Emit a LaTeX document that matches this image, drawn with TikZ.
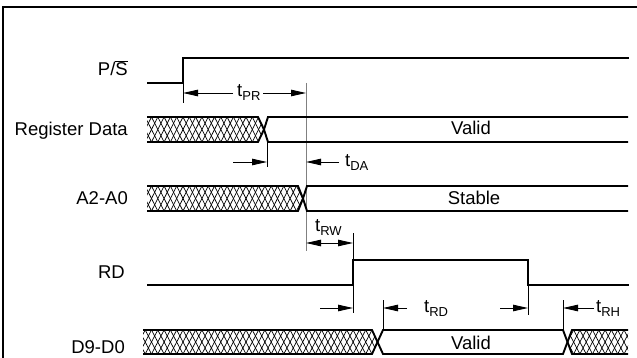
\documentclass[tikz,border=0pt]{standalone}
\usepackage{fontspec}
\setmainfont{Liberation Sans}
\usetikzlibrary{arrows.meta}
\newcommand{\tsub}[1]{t\raisebox{-4pt}{\fontsize{13}{13}\selectfont #1}}
\newcommand{\hatchrow}[2]{%
  \foreach \hx in {120,126.3,...,640} {%
    \draw[hatchline] (\hx,#1) -- (\hx+12.6,#2);
    \draw[hatchline] (\hx+12.6,#1) -- (\hx,#2);
  }}
\begin{document}
\begin{tikzpicture}[x=1pt,y=-1pt,
  sig/.style={line width=1.9pt, line join=miter},
  hatchline/.style={line width=0.7pt},
  tick/.style={line width=0.8pt},
  guide/.style={line width=1pt, draw=black!50},
  dim/.style={line width=0.9pt, -{Triangle[length=15pt,width=6.5pt]}},
  dimboth/.style={line width=0.9pt, {Triangle[length=15pt,width=6.5pt]}-{Triangle[length=15pt,width=6.5pt]}},
  lbl/.style={font=\fontsize{18.5}{18.5}\selectfont, inner sep=0pt}]
\useasboundingbox (0,0) rectangle (637,358);
% frame
\draw[line width=2pt] (3,360) -- (3,7) -- (640,7);

% signal names
\node[lbl, anchor=base east] (nps) at (128,76) {P/$\overline{\hbox{S}}$};
\node[lbl, anchor=base east] (nrd) at (128,136) {Register Data};
\node[lbl, anchor=base east] (na) at (128,205) {A2-A0};
\node[lbl, anchor=base east] (nrdsig) at (125,278) {RD};
\node[lbl, anchor=base east] (nd) at (125,353) {D9-D0};

% guide line and ticks
\draw[guide] (306,83) -- (306,251);
\coordinate (k1a) at (183,83); \coordinate (k1b) at (183,103);
\draw[tick] (k1a) -- (k1b);
\draw[tick] (267,142) -- (267,167);
\draw[tick] (353,233) -- (353,313);
\draw[tick] (383,300) -- (383,330);
\draw[tick] (528,285) -- (528,315);
\draw[tick] (563,300) -- (563,330);

% P/S
\draw[sig] (147,83) -- (183,83) -- (183,58) -- (629,58);

% Register Data bus
\begin{scope}
  \clip (147,117) -- (258,117) -- (264,129.5) -- (258,142) -- (147,142) -- cycle;
  \hatchrow{117}{142}
\end{scope}
\draw[sig] (147,117) -- (258,117) -- (264,129.5) -- (258,142) -- (147,142);
\draw[sig] (628,117) -- (268,117) -- (264,129.5) -- (268,142) -- (628,142);
\node[lbl, anchor=base] (vreg) at (471,135) {Valid};

% A2-A0 bus
\begin{scope}
  \clip (147,186) -- (298,186) -- (303,198.5) -- (298,211) -- (147,211) -- cycle;
  \hatchrow{186}{211}
\end{scope}
\draw[sig] (147,186) -- (298,186) -- (303,198.5) -- (298,211) -- (147,211);
\draw[sig] (628,186) -- (307,186) -- (303,198.5) -- (307,211) -- (628,211);
\node[lbl, anchor=base] (stab) at (474,205) {Stable};

% RD
\draw[sig] (147,285) -- (353,285) -- (353,260) -- (528,260) -- (528,285) -- (629,285);

% D9-D0 bus
\begin{scope}
  \clip (143,330) -- (372,330) -- (377.5,342) -- (372,354) -- (143,354) -- cycle;
  \hatchrow{330}{354}
\end{scope}
\draw[sig] (143,330) -- (372,330) -- (377.5,342) -- (372,354) -- (143,354);
\begin{scope}
  \clip (567.5,342) -- (572,330) -- (628,330) -- (628,354) -- (572,354) -- cycle;
  \hatchrow{330}{354}
\end{scope}
\draw[sig] (628,330) -- (572,330) -- (567.5,342) -- (572,354) -- (628,354);
\draw[sig] (377.5,342) -- (383,330) -- (563,330) -- (567.5,342) -- (563,354) -- (383,354) -- cycle;
\node[lbl, anchor=base] (vd) at (471,349) {Valid};

% timing dimensions
\coordinate (pra) at (233,93); \coordinate (prb) at (183,93);
\coordinate (prc) at (263,93); \coordinate (prd) at (306,93);
\draw[dim] (pra) -- (prb);
\draw[dim] (prc) -- (prd);
\node[lbl, anchor=base west] (tpr) at (237,97) {\tsub{PR}};

\coordinate (daa) at (233,162); \coordinate (dab) at (267,162);
\coordinate (dac) at (339,162); \coordinate (dad) at (306,162);
\draw[dim] (daa) -- (dab);
\draw[dim] (dac) -- (dad);
\node[lbl, anchor=base west] (tda) at (345,167) {\tsub{DA}};

\coordinate (rwa) at (306,243); \coordinate (rwb) at (353,243);
\draw[dimboth] (rwa) -- (rwb);
\node[lbl, anchor=base west] (trw) at (315,231) {\tsub{RW}};

\coordinate (r1a) at (320,308); \coordinate (r1b) at (353,308);
\coordinate (r2a) at (407,308); \coordinate (r2b) at (383,308);
\coordinate (r3a) at (500,308); \coordinate (r3b) at (528,308);
\coordinate (r4a) at (594,308); \coordinate (r4b) at (563,308);
\draw[dim] (r1a) -- (r1b);
\draw[dim] (r2a) -- (r2b);
\draw[dim] (r3a) -- (r3b);
\draw[dim] (r4a) -- (r4b);
\node[lbl, anchor=base west] (trd) at (424,312) {\tsub{RD}};
\node[lbl, anchor=base west] (trh) at (596,312) {\tsub{RH}};
\end{tikzpicture}
\end{document}
